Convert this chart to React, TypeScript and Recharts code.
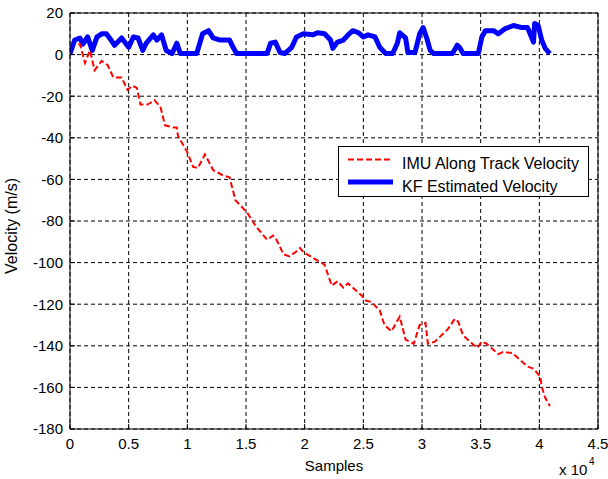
import React from "react";
import { LineChart, Line, XAxis, YAxis, CartesianGrid, Legend } from "recharts";

// x values are in units of 10^4 samples
const xTicks = [0, 0.5, 1, 1.5, 2, 2.5, 3, 3.5, 4, 4.5];
const yTicks = [-180, -160, -140, -120, -100, -80, -60, -40, -20, 0, 20];

const imuSamples = [
  0.07, 0.085, 0.128, 0.17, 0.21, 0.27, 0.32, 0.37, 0.44, 0.49, 0.53, 0.57, 0.6, 0.66, 0.72, 0.77,
  0.81, 0.88, 0.91, 0.92, 1.0, 1.05, 1.09, 1.15, 1.22, 1.3, 1.36, 1.41, 1.51, 1.59, 1.68, 1.73,
  1.76, 1.82, 1.87, 1.92, 1.96, 1.99, 2.05, 2.11, 2.17, 2.23, 2.28, 2.33, 2.37, 2.43, 2.49, 2.51,
  2.57, 2.64, 2.68, 2.74, 2.81, 2.86, 2.93, 2.98, 3.03, 3.05, 3.11, 3.22, 3.28, 3.31, 3.35, 3.41,
  3.47, 3.51, 3.55, 3.61, 3.65, 3.69, 3.77, 3.82, 3.9, 3.95, 3.98, 4.01, 4.02, 4.05, 4.09,
];
const imuVelocity = [
  5, 5, -4, 2, -7.5, -3, -5, -11, -11, -17, -15, -16, -24, -24, -22, -25,
  -34, -35, -35, -39, -47, -54, -54.5, -48, -55.5, -58, -59, -70, -76, -83, -89, -87,
  -89, -96, -97, -95, -93, -95, -97, -99, -101, -111, -109, -112, -110, -113, -116, -118,
  -119, -123, -130, -133, -126, -137, -139, -130, -129, -139, -138, -132, -127, -128.5, -135, -138,
  -141, -138, -139, -142, -144, -143, -143.5, -146, -150, -151, -153, -155, -159.5, -165, -169,
];

const kfSamples = [
  0.0, 0.04, 0.085, 0.11, 0.15, 0.19, 0.23, 0.27, 0.31, 0.35, 0.38, 0.44, 0.5, 0.54, 0.58, 0.62,
  0.65, 0.71, 0.74, 0.78, 0.82, 0.87, 0.91, 0.94, 1.0, 1.08, 1.13, 1.18, 1.22, 1.28, 1.36, 1.39,
  1.42, 1.68, 1.71, 1.75, 1.79, 1.83, 1.89, 1.93, 1.99, 2.07, 2.11, 2.17, 2.22, 2.24, 2.28, 2.33,
  2.37, 2.41, 2.46, 2.5, 2.54, 2.6, 2.64, 2.69, 2.75, 2.79, 2.81, 2.86, 2.88, 2.94, 2.98, 3.01,
  3.04, 3.07, 3.1, 3.26, 3.3, 3.32, 3.35, 3.48, 3.51, 3.54, 3.61, 3.65, 3.71, 3.78, 3.85, 3.9,
  3.95, 3.96, 3.99, 4.02, 4.05, 4.09,
];
const kfVelocity = [
  0.5, 7, 8, 5, 8.5, 2, 8.5, 10, 10, 7, 4.5, 8, 3.5, 8.5, 8, 2,
  5.5, 9.5, 7, 9.5, 2, 0.5, 5.5, 0.5, 0.5, 0.5, 10, 11.5, 8, 7, 7, 3.5,
  0.5, 0.5, 5.5, 6, 1, 0.5, 3.5, 8.5, 10, 9.5, 10.5, 10, 7, 3, 6, 7,
  9.5, 11.5, 10.5, 8.5, 9.5, 8.5, 3.5, 0.5, 0.5, 5.5, 10.5, 8, 1, 1, 10, 13,
  8, 2, 0.5, 0.5, 4.5, 3.5, 0.5, 0.5, 8.5, 11.5, 11.5, 10, 12.5, 14, 13, 13,
  6, 15, 14, 7, 3, 0.5,
];

const imuData = imuSamples.map((x, i) => ({ x, v: imuVelocity[i] }));
const kfData = kfSamples.map((x, i) => ({ x, v: kfVelocity[i] }));

const FONT = '"Liberation Sans", Arial, Helvetica, sans-serif';

function LegendBox() {
  return (
    <svg width={252} height={52} style={{ display: "block" }}>
      <rect x={0.5} y={0.5} width={250} height={50} fill="#fff" stroke="#000" />
      <line x1={10} y1={13.5} x2={55} y2={13.5} stroke="#ff0000" strokeWidth={2} strokeDasharray="6 3" />
      <text x={64} y={19} fontSize={16} fontFamily={FONT} dominantBaseline="middle" fill="#000">
        IMU Along Track Velocity
      </text>
      <line x1={10} y1={36} x2={55} y2={36} stroke="#0000ff" strokeWidth={5} />
      <text x={64} y={42} fontSize={16} fontFamily={FONT} dominantBaseline="middle" fill="#000">
        KF Estimated Velocity
      </text>
    </svg>
  );
}

export default function App() {
  const tickStyle = { fill: "#000", fontSize: 15, fontFamily: FONT };
  return (
    <div style={{ position: "absolute", left: 0, top: 0, width: 608, height: 479, background: "#fff" }}>
      <LineChart width={608} height={479} margin={{ top: 13, right: 10, bottom: 20, left: 0 }}>
        <CartesianGrid xAxisId="bottom" yAxisId="left" stroke="#000" strokeDasharray="4 3" />
        <XAxis
          xAxisId="bottom"
          dataKey="x"
          type="number"
          domain={[0, 4.5]}
          ticks={xTicks}
          allowDataOverflow
          height={30}
          tickSize={-5}
          tickMargin={14}
          stroke="#000"
          tick={tickStyle}
          interval={0}
        />
        <XAxis
          xAxisId="top"
          orientation="top"
          dataKey="x"
          type="number"
          domain={[0, 4.5]}
          ticks={xTicks}
          allowDataOverflow
          mirror
          tick={false}
          tickSize={5}
          stroke="#000"
          interval={0}
        />
        <YAxis
          yAxisId="left"
          type="number"
          domain={[-180, 20]}
          ticks={yTicks}
          allowDataOverflow
          width={70}
          tickSize={-5}
          tickMargin={12}
          stroke="#000"
          tick={tickStyle}
          interval={0}
        />
        <YAxis
          yAxisId="right"
          orientation="right"
          type="number"
          domain={[-180, 20]}
          ticks={yTicks}
          allowDataOverflow
          mirror
          tick={false}
          tickSize={5}
          stroke="#000"
          interval={0}
        />
        <Legend
          layout="horizontal"
          verticalAlign="middle"
          align="center"
          content={<LegendBox />}
          wrapperStyle={{ position: "absolute", left: 338, top: 146, width: 252, height: 52 }}
        />
        <Line
          xAxisId="bottom"
          yAxisId="left"
          data={kfData}
          dataKey="v"
          name="KF Estimated Velocity"
          stroke="#0000ff"
          strokeWidth={5}
          strokeLinejoin="round"
          dot={false}
          isAnimationActive={false}
        />
        <Line
          xAxisId="top"
          yAxisId="right"
          data={imuData}
          dataKey="v"
          name="IMU Along Track Velocity"
          stroke="#ff0000"
          strokeWidth={2}
          strokeDasharray="6 3"
          dot={false}
          isAnimationActive={false}
        />
        <text x={334} y={471} textAnchor="middle" fontSize={15} fontFamily={FONT} fill="#000">
          Samples
        </text>
        <text x={559} y={475} fontSize={15} fontFamily={FONT} fill="#000">
          x 10
        </text>
        <text x={589} y={465} fontSize={10} fontFamily={FONT} fill="#000">
          4
        </text>
        <text
          x={17}
          y={226}
          textAnchor="middle"
          fontSize={16}
          fontFamily={FONT}
          fill="#000"
          transform="rotate(-90, 17, 226)"
        >
          Velocity (m/s)
        </text>
      </LineChart>
    </div>
  );
}
